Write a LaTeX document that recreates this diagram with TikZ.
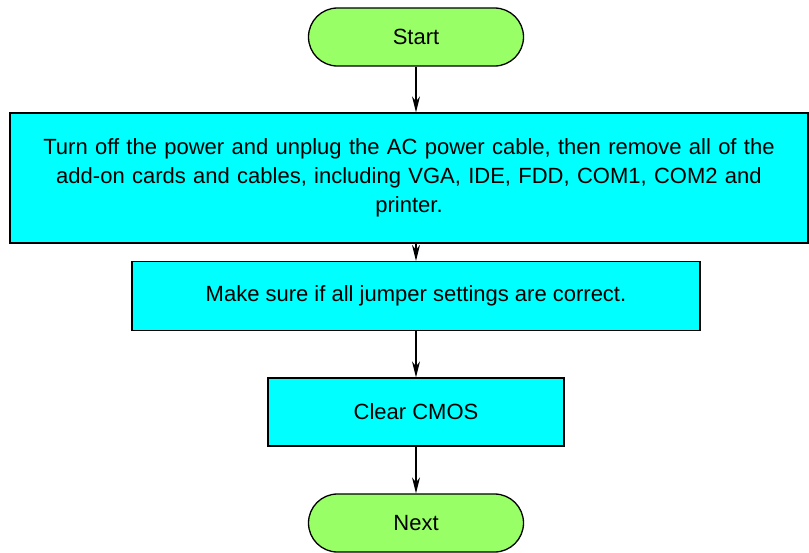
\documentclass[tikz,border=0pt]{standalone}
\usepackage{fontspec}
\setmainfont{Liberation Sans}
\usetikzlibrary{arrows.meta}
\definecolor{termgreen}{HTML}{99FF66}
\definecolor{boxcyan}{HTML}{00FFFF}
\begin{document}
\begin{tikzpicture}[x=1pt,y=-1pt,
  term/.style={draw=black,line width=1.3pt,fill=termgreen,rounded corners=29pt,
    minimum width=215pt,minimum height=58pt,inner sep=0pt,font=\fontsize{22}{26}\selectfont},
  stepbox/.style={draw=black,line width=1.3pt,fill=boxcyan,inner sep=0pt,align=center},
  conn/.style={line width=1.3pt,-{Stealth[length=16pt,width=8pt,inset=5pt]}}]
\useasboundingbox (0,0) rectangle (809,552);
\node[term] (start) at (416,37) {Start};
\node[stepbox,minimum width=798pt,minimum height=130pt,text width=790pt,
  font=\fontsize{22}{29}\selectfont] (b1) at (409,178)
  {Turn off the power and unplug the AC power cable, then remove all of the\\
   add-on cards and cables, including VGA, IDE, FDD, COM1, COM2 and\\
   printer.};
\node[stepbox,minimum width=568pt,minimum height=69pt,font=\fontsize{22}{26}\selectfont] (b2) at (416,296)
  {Make sure if all jumper settings are correct.};
\node[stepbox,minimum width=296pt,minimum height=68pt,font=\fontsize{22}{26}\selectfont] (b3) at (416,412)
  {Clear CMOS};
\node[term] (next) at (416,523) {Next};
\draw[conn] (start.south) -- (start.south |- b1.north);
\draw[conn] (start.south |- b1.south) -- (b2.north);
\draw[conn] (b2) -- (b3);
\draw[conn] (b3) -- (next);
\end{tikzpicture}
\end{document}
